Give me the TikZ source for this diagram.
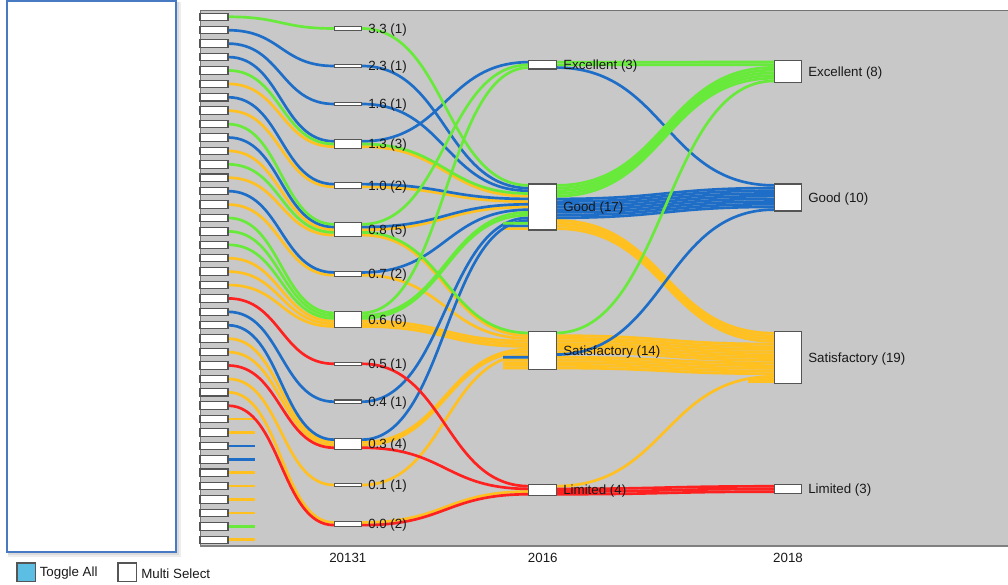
\documentclass[tikz,border=0pt]{standalone}
\usepackage{fontspec}
\setmainfont{Liberation Sans}
\definecolor{cg}{RGB}{104,234,58}
\definecolor{cb}{RGB}{30,110,200}
\definecolor{co}{RGB}{255,192,32}
\definecolor{cr}{RGB}{255,32,32}
\definecolor{panel}{RGB}{200,200,200}
\definecolor{boxc}{RGB}{85,85,85}
\definecolor{leftb}{RGB}{72,122,196}
\definecolor{toggle}{RGB}{92,190,226}
\definecolor{labc}{RGB}{25,25,25}
% record: colour, left box index, y at 2013 node, y into 2016 node, y out of 2016 node, y at 2018 node
\newcommand\rec[6]{\pgfmathsetmacro\yb{16.8+13.41*#2}%
  \draw[flow,#1] (228,\yb) .. controls (281,\yb) and (281,#3) .. (334,#3) -- (362,#3)
    .. controls (445.5,#3) and (445.5,#4) .. (529,#4) -- (556,#5)
    .. controls (665,#5) and (665,#6) .. (774,#6);}
% record without 2013 value: colour, y into 2016, y out of 2016, y at 2018
\newcommand\srec[4]{%
  \draw[flow,#1] (503,#2) -- (529,#2) -- (556,#3)
    .. controls (665,#3) and (665,#4) .. (774,#4);}
\begin{document}
\begin{tikzpicture}[x=0.75pt,y=-0.75pt,
  flow/.style={line width=2pt},
  lbox/.style={draw=boxc,fill=white,line width=0.8pt,minimum width=21pt,minimum height=5.6pt,inner sep=0pt},
  nbox/.style={draw=boxc,fill=white,line width=0.8pt,minimum width=20.5pt,inner sep=0pt},
  lab/.style={anchor=west,inner sep=0pt,text=labc,font=\fontsize{10}{12}\selectfont},
  axlab/.style={inner sep=0pt,text=labc,font=\fontsize{10}{12}\selectfont}]
\useasboundingbox (0,0) rectangle (1008,585);
% left panel
\fill[black,opacity=0.07] (8,2) rectangle (180.5,556.5);
\fill[black,opacity=0.08] (8,2) rectangle (178.5,554.5);
\draw[leftb,line width=1.1pt,fill=white] (7,1) rectangle (176,552);
% main panel
\fill[panel] (200,10) rectangle (1008,546);
\draw[black!55,line width=0.7pt] (200,10) -- (1008,10);
\draw[black!55,line width=0.7pt] (200,10) -- (200,546);
\draw[black!50,line width=1.6pt] (200,546) -- (1008,546);
% left stubs
\foreach \i/\c in {30/co,31/co,32/cb,33/cb,34/co,35/co,36/co,37/co,38/cg,39/co}
  \draw[flow,\c] (228,{16.8+13.41*\i}) -- (255,{16.8+13.41*\i});
% flows
\rec{co}{5}{146.7}{196.2}{220.5}{333.2}
\rec{co}{7}{186.85}{201.6}{223.2}{335.9}
\rec{co}{10}{229.7}{207}{225.9}{338.6}
\rec{co}{12}{235.1}{335.65}{335.65}{344}
\rec{co}{14}{275.15}{338.35}{338.35}{346.7}
\rec{co}{18}{321.05}{341.05}{341.05}{349.4}
\rec{co}{19}{323.75}{343.75}{343.75}{352.1}
\rec{co}{20}{326.45}{346.45}{346.45}{354.8}
\rec{co}{24}{442.35}{349.15}{349.15}{357.5}
\rec{co}{25}{445.05}{351.85}{351.85}{360.2}
\rec{co}{27}{485}{354.55}{357.25}{362.9}
\rec{co}{28}{522.45}{491.55}{486.15}{376.4}
\srec{co}{228.6}{228.6}{341.3}
\srec{co}{359.95}{359.95}{365.6}
\srec{co}{362.65}{362.65}{368.3}
\srec{co}{365.35}{365.35}{371}
\srec{co}{368.05}{368.05}{373.7}
\draw[flow,co] (748,379.1) -- (774,379.1);
\draw[flow,co] (748,381.8) -- (774,381.8);
\rec{cb}{1}{66}{188.1}{198.9}{188.05}
\rec{cb}{2}{104}{190.8}{201.6}{190.75}
\rec{cb}{3}{141.3}{62.15}{67.55}{185.35}
\rec{cb}{6}{184.15}{198.9}{204.3}{193.45}
\rec{cb}{9}{227}{204.3}{207}{196.15}
\rec{cb}{13}{272.45}{209.7}{209.7}{198.85}
\rec{cb}{22}{401.7}{217.8}{212.4}{201.55}
\rec{cb}{23}{439.65}{220.5}{215.1}{204.25}
\srec{cb}{357.25}{354.55}{209.65}
\srec{cb}{225.9}{217.8}{206.95}
\rec{cg}{0}{28.5}{185.4}{185.4}{67.45}
\rec{cg}{4}{144}{193.5}{188.1}{70.15}
\rec{cg}{8}{224.3}{64.85}{62.15}{62.05}
\rec{cg}{11}{232.4}{332.95}{332.95}{80.95}
\rec{cg}{15}{312.95}{67.55}{64.85}{64.75}
\rec{cg}{16}{315.65}{212.4}{190.8}{72.85}
\rec{cg}{17}{318.35}{215.1}{193.5}{75.55}
\srec{cg}{223.2}{196.2}{78.25}
\rec{cr}{21}{363.8}{486.15}{488.85}{486.3}
\rec{cr}{26}{447.75}{488.85}{491.55}{489}
\rec{cr}{29}{525.15}{494.25}{494.25}{491.7}
% left boxes
\foreach \i in {0,...,39}
  \node[lbox] (b\i) at (214,{16.8+13.41*\i}) {};
% 2013 nodes
\node[nbox,minimum height=2.55pt] (a33) at (348,28.5) {};
\node[nbox,minimum height=2.55pt] (a23) at (348,66) {};
\node[nbox,minimum height=2.55pt] (a16) at (348,104) {};
\node[nbox,minimum height=6.08pt] (a13) at (348,144) {};
\node[nbox,minimum height=4.05pt] (a10) at (348,185.5) {};
\node[nbox,minimum height=10.13pt] (a08) at (348,229.7) {};
\node[nbox,minimum height=4.05pt] (a07) at (348,273.8) {};
\node[nbox,minimum height=12.15pt] (a06) at (348,319.7) {};
\node[nbox,minimum height=2.55pt] (a05) at (348,363.8) {};
\node[nbox,minimum height=2.55pt] (a04) at (348,401.7) {};
\node[nbox,minimum height=8.1pt] (a03) at (348,443.7) {};
\node[nbox,minimum height=2.55pt] (a01) at (348,485) {};
\node[nbox,minimum height=4.05pt] (a00) at (348,523.8) {};
% 2016 nodes
\node[nbox,minimum height=6.2pt] (e16) at (542.5,64.85) {};
\node[nbox,minimum height=34.5pt] (g16) at (542.5,207) {};
\node[nbox,minimum height=28.2pt] (s16) at (542.5,350.5) {};
\node[nbox,minimum height=8.25pt] (l16) at (542.5,490.2) {};
% 2018 nodes
\node[nbox,minimum height=16.2pt] (e18) at (788,71.5) {};
\node[nbox,minimum height=20.25pt] (g18) at (788,197.5) {};
\node[nbox,minimum height=38.7pt] (s18) at (788,357.5) {};
\node[nbox,minimum height=6.45pt] (l18) at (788,489) {};
% labels
\node[lab] (t33) at (368,29.8) {3.3 (1)};
\node[lab] (t23) at (368,67.3) {2.3 (1)};
\node[lab] (t16) at (368,105.3) {1.6 (1)};
\node[lab] (t13) at (368,145.3) {1.3 (3)};
\node[lab] (t10) at (368,186.8) {1.0 (2)};
\node[lab] (t08) at (368,231) {0.8 (5)};
\node[lab] (t07) at (368,275.1) {0.7 (2)};
\node[lab] (t06) at (368,321) {0.6 (6)};
\node[lab] (t05) at (368,365.1) {0.5 (1)};
\node[lab] (t04) at (368,403) {0.4 (1)};
\node[lab] (t03) at (368,445) {0.3 (4)};
\node[lab] (t01) at (368,486.3) {0.1 (1)};
\node[lab] (t00) at (368,525.1) {0.0 (2)};
\node[lab] (te16) at (563,66.2) {Excellent (3)};
\node[lab] (tg16) at (563,208.3) {Good (17)};
\node[lab] (ts16) at (563,352.3) {Satisfactory (14)};
\node[lab] (tl16) at (563,491.5) {Limited (4)};
\node[lab] (te18) at (808,72.8) {Excellent (8)};
\node[lab] (tg18) at (808,199) {Good (10)};
\node[lab] (ts18) at (808,359) {Satisfactory (19)};
\node[lab] (tl18) at (808,490.5) {Limited (3)};
\node[axlab] (x1) at (347.8,558) {20131};
\node[axlab] (x2) at (542.8,558) {2016};
\node[axlab] (x3) at (788,558) {2018};
% legend
\node[draw=boxc,line width=1.1pt,fill=toggle,minimum size=14pt,inner sep=0pt] (tog) at (26.3,572.3) {};
\node[lab] (togt) at (39.5,573.5) {Toggle All};
\node[draw=boxc,line width=1.1pt,fill=white,minimum size=14pt,inner sep=0pt] (mul) at (127.4,572.3) {};
\node[lab] (mult) at (141,573.5) {Multi Select};
\end{tikzpicture}
\end{document}
